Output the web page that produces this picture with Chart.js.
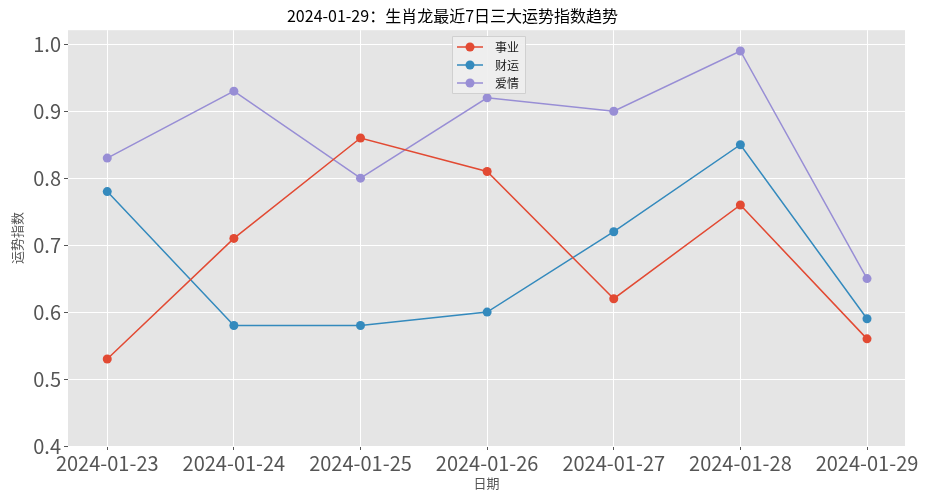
<!DOCTYPE html>
<html>
<head>
<meta charset="utf-8">
<script src="https://cdn.jsdelivr.net/npm/chart.js@4"></script>
<style>
  html, body { margin: 0; padding: 0; background: #fff; }
  #wrap { width: 929px; height: 500px; }
</style>
</head>
<body>
<div id="wrap"><canvas id="myChart"></canvas></div>
<script>
// dates along the x-axis
var dates = ["2024-01-23", "2024-01-24", "2024-01-25", "2024-01-26", "2024-01-27", "2024-01-28", "2024-01-29"];
// three fortune indices
var career = [0.53, 0.71, 0.86, 0.81, 0.62, 0.76, 0.56];
var wealth = [0.78, 0.58, 0.58, 0.60, 0.72, 0.85, 0.59];
var love = [0.83, 0.93, 0.80, 0.92, 0.90, 0.99, 0.65];
var yTicks = [0.4, 0.5, 0.6, 0.7, 0.8, 0.9, 1.0];

var FONT = "'Noto Sans CJK SC', 'DejaVu Sans', sans-serif";

function pts(arr) {
  return arr.map(function (v, i) { return { x: i, y: v }; });
}

// legend box drawn inside the plot, like matplotlib's
var innerLegend = {
  id: 'innerLegend',
  afterDraw: function (chart) {
    var ctx = chart.ctx;
    var x0 = 452, y0 = 36, w = 73, h = 57;
    ctx.save();
    ctx.fillStyle = 'rgba(238,238,238,0.9)';
    ctx.strokeStyle = '#d0d0d0';
    ctx.lineWidth = 1;
    ctx.beginPath();
    ctx.rect(x0 + 0.5, y0 + 0.5, w, h);
    ctx.fill();
    ctx.stroke();
    ctx.font = "12px " + FONT;
    ctx.textBaseline = 'middle';
    chart.data.datasets.forEach(function (ds, i) {
      var cy = y0 + 11 + i * 18;
      ctx.strokeStyle = ds.borderColor;
      ctx.lineWidth = 1.5;
      ctx.beginPath();
      ctx.moveTo(x0 + 5, cy);
      ctx.lineTo(x0 + 31, cy);
      ctx.stroke();
      ctx.fillStyle = ds.borderColor;
      ctx.beginPath();
      ctx.arc(x0 + 18, cy, 4.5, 0, Math.PI * 2);
      ctx.fill();
      ctx.fillStyle = '#222';
      ctx.fillText(ds.label, x0 + 43, cy);
    });
    ctx.restore();
  }
};

var plotBg = {
  id: 'plotBg',
  beforeDraw: function (chart) {
    var a = chart.chartArea;
    chart.ctx.save();
    chart.ctx.fillStyle = '#E5E5E5';
    chart.ctx.fillRect(a.left, a.top, a.right - a.left, a.bottom - a.top);
    chart.ctx.restore();
  }
};

var ctx = document.getElementById("myChart");
var myChart = new Chart(ctx, {
  type: 'line',
  data: {
    datasets: [
      { data: pts(career), label: "事业", borderColor: "#E24A33", backgroundColor: "#E24A33" },
      { data: pts(wealth), label: "财运", borderColor: "#348ABD", backgroundColor: "#348ABD" },
      { data: pts(love), label: "爱情", borderColor: "#988ED5", backgroundColor: "#988ED5" }
    ]
  },
  options: {
    responsive: true,
    maintainAspectRatio: false,
    animation: false,
    layout: { padding: { left: 0, right: 24, top: 0, bottom: 0 } },
    elements: {
      line: { borderWidth: 1.5, tension: 0, fill: false },
      point: { radius: 4.5, hoverRadius: 5, borderWidth: 0 }
    },
    plugins: {
      legend: { display: false },
      tooltip: { enabled: false },
      title: {
        display: true,
        text: "2024-01-29：生肖龙最近7日三大运势指数趋势",
        color: '#000',
        font: { family: FONT, size: 16, weight: 'normal' },
        padding: { top: 6, bottom: 5 }
      }
    },
    scales: {
      x: {
        type: 'linear',
        min: -0.31,
        max: 6.3,
        afterBuildTicks: function (scale) {
          scale.ticks = dates.map(function (d, i) { return { value: i }; });
        },
        afterFit: function (scale) { scale.height = 54; },
        ticks: {
          autoSkip: false,
          maxRotation: 0,
          padding: 1,
          color: '#555',
          font: { family: FONT, size: 20 },
          callback: function (v) { return dates[v]; }
        },
        grid: { color: '#fff', lineWidth: 1, tickColor: '#555', tickLength: 4, drawTicks: true },
        border: { display: false },
        title: {
          display: true,
          text: "日期",
          color: '#555',
          font: { family: FONT, size: 13 },
          padding: { top: 0, bottom: 9 }
        }
      },
      y: {
        min: 0.4,
        max: 1.021,
        afterBuildTicks: function (scale) {
          scale.ticks = yTicks.map(function (v) { return { value: v }; });
        },
        afterFit: function (scale) { scale.width = 68; },
        ticks: {
          padding: 3,
          color: '#555',
          font: { family: FONT, size: 20 },
          callback: function (v) { return v.toFixed(1); }
        },
        grid: { color: '#fff', lineWidth: 1, tickColor: '#555', tickLength: 4, drawTicks: true },
        border: { display: false },
        title: {
          display: true,
          text: "运势指数",
          color: '#555',
          font: { family: FONT, size: 13 },
          padding: { top: 9, bottom: 0 }
        }
      }
    }
  },
  plugins: [plotBg, innerLegend]
});
</script>
</body>
</html>
